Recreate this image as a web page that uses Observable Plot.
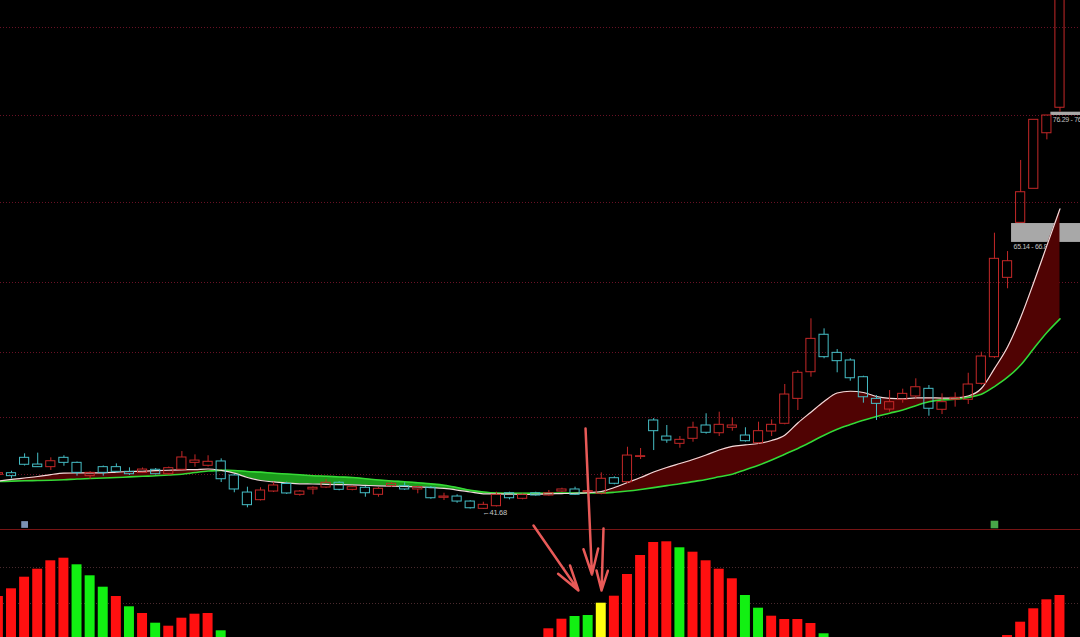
<!DOCTYPE html>
<html><head><meta charset="utf-8">
<script src="https://cdn.jsdelivr.net/npm/d3@7"></script>
<script src="https://cdn.jsdelivr.net/npm/@observablehq/plot@0.6"></script>
<style>
html,body{margin:0;padding:0;background:#000;}
#wrap{position:relative;width:1080px;height:637px;overflow:hidden;background:#000;}
</style>
</head><body><div id="wrap"></div>
<script>
// ---- candle data (index 0..81) ----
const open = [44.73,44.87,46.22,45.63,45.40,46.22,45.78,44.61,45.40,45.40,
44.99,44.90,45.17,44.78,45.17,45.78,45.52,45.90,44.67,43.17,
42.50,43.26,43.92,42.97,43.44,43.61,44.03,43.41,43.59,42.97,
43.73,43.73,43.44,43.59,42.71,42.82,42.38,41.74,41.97,43.11,
42.62,43.11,42.91,43.26,43.44,43.20,43.06,44.43,44.08,46.30,
49.50,48.09,47.45,47.89,49.06,48.38,48.86,48.18,47.50,48.53,
49.21,51.40,53.74,57.03,55.44,54.77,53.30,51.40,50.46,51.32,
51.61,52.28,50.44,51.32,51.32,52.72,55.06,62.03,66.86,69.85,
74.73,76.97];
const high = [45.11,45.04,46.57,46.63,46.22,46.40,45.85,45.00,45.50,45.69,
45.34,45.33,45.28,45.41,46.77,46.48,46.40,46.13,44.75,43.64,
43.59,44.08,44.08,43.35,43.68,44.32,44.12,43.75,43.70,43.60,
44.05,44.03,43.73,43.70,43.11,42.97,42.45,42.32,43.20,43.20,
43.06,43.20,43.35,43.55,43.64,43.50,44.90,44.55,47.15,47.04,
49.67,49.06,48.09,49.35,50.09,50.23,49.73,48.86,49.35,49.56,
52.66,53.89,58.43,57.55,55.73,54.92,53.39,51.69,52.13,52.25,
53.16,52.57,51.84,51.93,53.65,55.50,65.95,64.34,72.34,75.91,
76.29,91.50];
const low = [44.58,44.38,45.50,45.37,45.11,45.48,44.61,44.32,44.61,44.89,
44.67,44.84,44.71,44.67,45.11,45.40,45.41,44.05,43.15,41.83,
42.43,43.17,43.00,42.85,42.97,43.52,43.32,43.32,42.76,42.76,
43.61,43.35,43.06,42.58,42.47,42.23,41.72,41.68,41.90,42.53,
42.53,42.85,42.85,43.20,42.91,43.05,42.97,43.85,43.95,46.07,
46.86,47.50,47.06,47.59,48.30,48.09,48.56,47.60,47.42,48.09,
49.12,50.38,53.30,54.92,53.69,52.95,51.02,49.50,50.23,51.02,
51.40,49.88,50.02,50.67,50.90,52.60,54.95,61.07,66.86,69.85,
74.15,76.58];
const close = [44.87,44.61,45.61,45.40,45.92,45.78,44.90,44.90,44.90,44.99,
44.78,45.19,44.78,45.31,46.25,45.98,45.87,44.34,43.44,42.06,
43.35,43.79,43.09,43.26,43.59,44.03,43.41,43.64,43.11,43.50,
43.94,43.44,43.64,42.67,42.82,42.38,41.79,42.09,42.97,42.67,
42.97,42.91,43.11,43.44,42.97,43.30,44.38,43.94,46.42,46.36,
48.56,47.74,47.80,48.86,48.42,49.12,49.06,47.68,48.56,49.12,
51.78,53.69,56.67,55.06,54.71,53.21,51.54,50.96,51.11,51.84,
52.42,50.53,51.11,51.49,52.66,55.12,63.70,63.49,69.55,75.91,
76.29,91.50];

// ---- moving averages ----
const maWhite = [44.18,44.32,44.45,44.58,44.75,44.87,44.89,44.90,44.90,44.97,
45.02,45.04,45.09,45.13,45.17,45.19,45.24,45.11,44.87,44.49,
44.23,44.10,44.01,43.94,43.92,43.89,43.87,43.85,43.80,43.76,
43.73,43.70,43.67,43.61,43.53,43.39,43.22,43.06,43.06,43.04,
43.00,43.02,43.06,43.08,43.11,43.17,43.26,43.61,44.05,44.49,
44.97,45.37,45.72,46.07,46.47,46.91,47.22,47.35,47.48,47.74,
48.21,49.28,50.23,51.17,51.91,52.07,51.96,51.61,51.45,51.41,
51.48,51.49,51.47,51.49,51.65,52.31,54.06,55.95,58.54,61.62,
64.86,68.09];
const maGreen = [44.14,44.17,44.20,44.23,44.25,44.29,44.36,44.40,44.45,44.49,
44.55,44.60,44.64,44.71,44.78,44.93,45.06,45.12,45.11,45.02,
44.96,44.87,44.80,44.73,44.65,44.60,44.54,44.49,44.38,44.27,
44.18,44.12,44.03,43.93,43.81,43.61,43.37,43.22,43.13,43.11,
43.11,43.11,43.11,43.12,43.13,43.13,43.13,43.19,43.30,43.44,
43.60,43.78,43.94,44.13,44.32,44.55,44.78,45.18,45.57,46.03,
46.54,47.04,47.61,48.21,48.73,49.14,49.52,49.85,50.14,50.43,
50.80,51.14,51.31,51.36,51.53,51.80,52.48,53.30,54.37,55.82,
57.23,58.43];

// ---- lower indicator histogram ----
const histValue = [49,56.7,68.3,76.3,84.7,87.3,80.7,69.7,58.3,49,
38.7,32,22.3,19.3,27.3,31.3,32,14.7,null,null,
null,null,null,null,null,null,null,null,null,null,
null,null,null,null,null,null,null,null,null,null,
null,null,16.7,26.3,29,30,42.3,49.3,71,90,
103,103.7,97.7,93.3,84.7,76.3,66.7,50,37.3,29.3,
26,26,22,11.7,null,null,null,null,null,null,
null,null,null,null,null,null,null,10,23.3,36.7,
45.7,50];
const histColor = ["R","R","R","R","R","R","G","G","G","R",
"G","R","G","R","R","R","R","G",null,null,
null,null,null,null,null,null,null,null,null,null,
null,null,null,null,null,null,null,null,null,null,
null,null,"R","R","G","G","Y","R","R","R",
"R","R","G","R","R","R","R","G","G","R",
"R","R","R","G",null,null,null,null,null,null,
null,null,null,null,null,null,null,"R","R","R",
"R","R"];

// ---- reference levels, labels, annotations ----
const gridPrices = [84.02, 76.29, 68.65, 61.62, 55.47, 49.76, 44.75];
const histGridLevels = [78, 42];
const gapFrom = [77, 80];
const gapLow = [65.14, 76.29];
const gapHigh = [66.80, 76.58];
const gapLabel = ["65.14 - 66.80", "76.29 - 76.58"];
const lowIndex = 37, lowPrice = 41.68, lowLabel = "\u219041.68";
const arrowFromX = [40.83, 44.80, 46.17];
const arrowFromY = [40.28, 48.79, 40.01];
const arrowToX = [44.26, 45.29, 46.02];
const arrowToY = [34.57, 35.97, 34.57];
const iconIndex = [2, 76];

// ---- build tables ----
const candles = open.map((o, i) => ({i, o, h: high[i], l: low[i], c: close[i], dir: close[i] >= o ? "up" : "down"}));
const ma = maWhite.map((w, i) => ({i, w, g: maGreen[i]}));
const bars = histValue.map((v, i) => ({i, v, c: histColor[i]})).filter(d => d.v != null);
const gaps = gapFrom.map((f, k) => ({from: f, lo: gapLow[k], hi: gapHigh[k], label: gapLabel[k]}));
const arrows = arrowFromX.map((x, k) => ({x1: x, y1: arrowFromY[k], x2: arrowToX[k], y2: arrowToY[k]}));

const xDomain = [0.1607, 82.566];
const W = 1080;
const curve = "monotone-x";

const main = Plot.plot({
  width: W, height: 529, margin: 0,
  x: {domain: xDomain, axis: null},
  y: {domain: [39.924, 86.391], axis: null},
  color: {domain: ["up", "down"], range: ["#c42828", "#46bec6"]},
  style: {background: "transparent", overflow: "visible", letterSpacing: "-0.3px"},
  marks: [
    Plot.ruleY(gridPrices, {stroke: "#6a1226", strokeDasharray: "1,2", strokeWidth: 1}),
    Plot.rect(gaps, {x1: "from", x2: () => xDomain[1] + 1, y1: "lo", y2: "hi", insetLeft: 4, fill: "#a8a8a8"}),
    Plot.text(gaps, {x: "from", y: "lo", text: "label", textAnchor: "start", lineAnchor: "top", dx: 6, dy: 2, fill: "#c4c4c4", fontSize: 7, fontFamily: "Liberation Sans"}),
    Plot.areaY(ma, {x: "i", y1: "w", y2: d => Math.max(d.w, d.g), fill: "#1b9a1b", curve}),
    Plot.areaY(ma, {x: "i", y1: "g", y2: d => Math.max(d.w, d.g), fill: "#500303", curve}),
    Plot.line(ma, {x: "i", y: "g", stroke: "#36d936", strokeWidth: 1.6, curve}),
    Plot.line(ma, {x: "i", y: "w", stroke: "#f0dcdc", strokeWidth: 1.2, curve}),
    Plot.ruleX(candles, {x: "i", y1: d => Math.max(d.o, d.c), y2: "h", stroke: "dir"}),
    Plot.ruleX(candles, {x: "i", y1: "l", y2: d => Math.min(d.o, d.c), stroke: "dir"}),
    Plot.rect(candles, {x1: d => d.i - 0.35, x2: d => d.i + 0.35, y1: "o", y2: "c", stroke: "dir", fill: "none"}),
    Plot.text([{i: lowIndex, p: lowPrice, t: lowLabel}], {x: "i", y: "p", text: "t", textAnchor: "start", lineAnchor: "top", dx: -1, dy: 0, fill: "#c4c4c4", fontSize: 7.5, fontFamily: "Liberation Sans"}),
    Plot.arrow(arrows, {x1: "x1", y1: "y1", x2: "x2", y2: "y2", stroke: "#e85a58", strokeWidth: 2.5, headLength: 16, headAngle: 32}),
    Plot.dot([iconIndex[0]], {x: d => d, frameAnchor: "bottom", dy: -5, symbol: "square", r: 3.8, fill: "#7b92b4"}),
    Plot.dot([iconIndex[1]], {x: d => d, frameAnchor: "bottom", dy: -5, symbol: "square", r: 4.3, fill: "#48a848"})
  ]
});

const hist = Plot.plot({
  width: W, height: 109, marginTop: 1, marginRight: 0, marginBottom: 0, marginLeft: 0,
  x: {domain: xDomain, axis: null},
  y: {domain: [8, 116], axis: null},
  color: {domain: ["R", "G", "Y"], range: ["#ff1010", "#12f012", "#ffff10"]},
  style: {background: "#000", overflow: "hidden"},
  marks: [
    Plot.ruleY(histGridLevels, {stroke: "#4a2a2e", strokeDasharray: "1,2"}),
    Plot.rect(bars, {x1: d => d.i - 0.38, x2: d => d.i + 0.38, y1: 0, y2: "v", fill: "c"}),
    Plot.frame({anchor: "top", stroke: "#761414"})
  ]
});

const wrap = document.getElementById("wrap");
hist.style.position = "absolute"; hist.style.left = "0px"; hist.style.top = "528px";
main.style.position = "absolute"; main.style.left = "0px"; main.style.top = "0px";
wrap.appendChild(hist);
wrap.appendChild(main);
</script>
</body></html>
